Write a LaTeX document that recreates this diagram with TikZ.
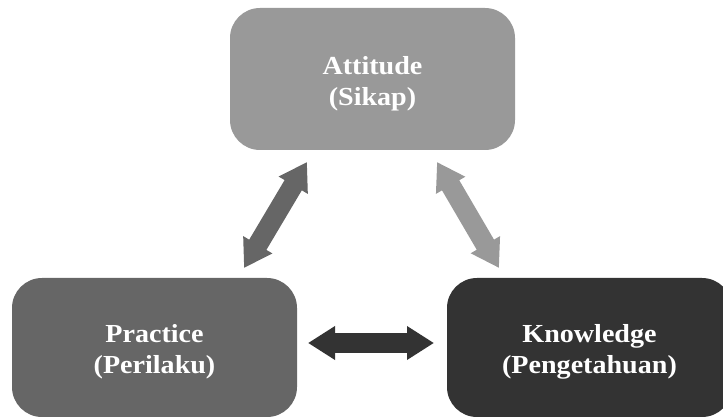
\documentclass[tikz,border=0pt]{standalone}
\usepackage{fontspec}
\setmainfont[FakeStretch=1.08]{Liberation Serif}
\usetikzlibrary{arrows.meta}
\definecolor{boxA}{HTML}{999999}
\definecolor{boxB}{HTML}{666666}
\definecolor{boxC}{HTML}{333333}
\newcommand\twolines[2]{\raisebox{-11pt}[0pt][0pt]{\begin{tabular}{@{}c@{}}#1\\#2\end{tabular}}}
\tikzset{
  box/.style={rounded corners=30pt, inner sep=0pt, text=white,
    minimum width=285pt, font=\fontsize{26}{31}\selectfont\bfseries},
  dbl/.style={line width=20pt, {Triangle[width=32pt,length=27pt]}-{Triangle[width=32pt,length=27pt]}}
}
\begin{document}
\begin{tikzpicture}[x=1pt,y=-1pt]
\useasboundingbox (0,0) rectangle (723,419);
\begin{scope}
\clip (0,0) rectangle (723,419);
\node[box, fill=boxA, minimum height=142pt] (att) at (372.5,79) {\twolines{Attitude}{(Sikap)}};
\node[box, fill=boxB, minimum height=139pt] (prac) at (154.5,347.5) {\twolines{Practice}{(Perilaku)}};
\node[box, fill=boxC, minimum height=139pt] (know) at (589.5,347.5) {\twolines{Knowledge}{(Pengetahuan)}};
\end{scope}
\coordinate (l1) at (244,268);
\coordinate (l2) at (307,162);
\coordinate (r1) at (437,162);
\coordinate (r2) at (499,268);
\coordinate (h1) at (308,343);
\coordinate (h2) at (434,343);
\draw[dbl, draw=boxB, fill=boxB] (l1) -- (l2);
\draw[dbl, draw=boxA, fill=boxA] (r1) -- (r2);
\draw[dbl, draw=boxC, fill=boxC] (h1) -- (h2);
\end{tikzpicture}
\end{document}
